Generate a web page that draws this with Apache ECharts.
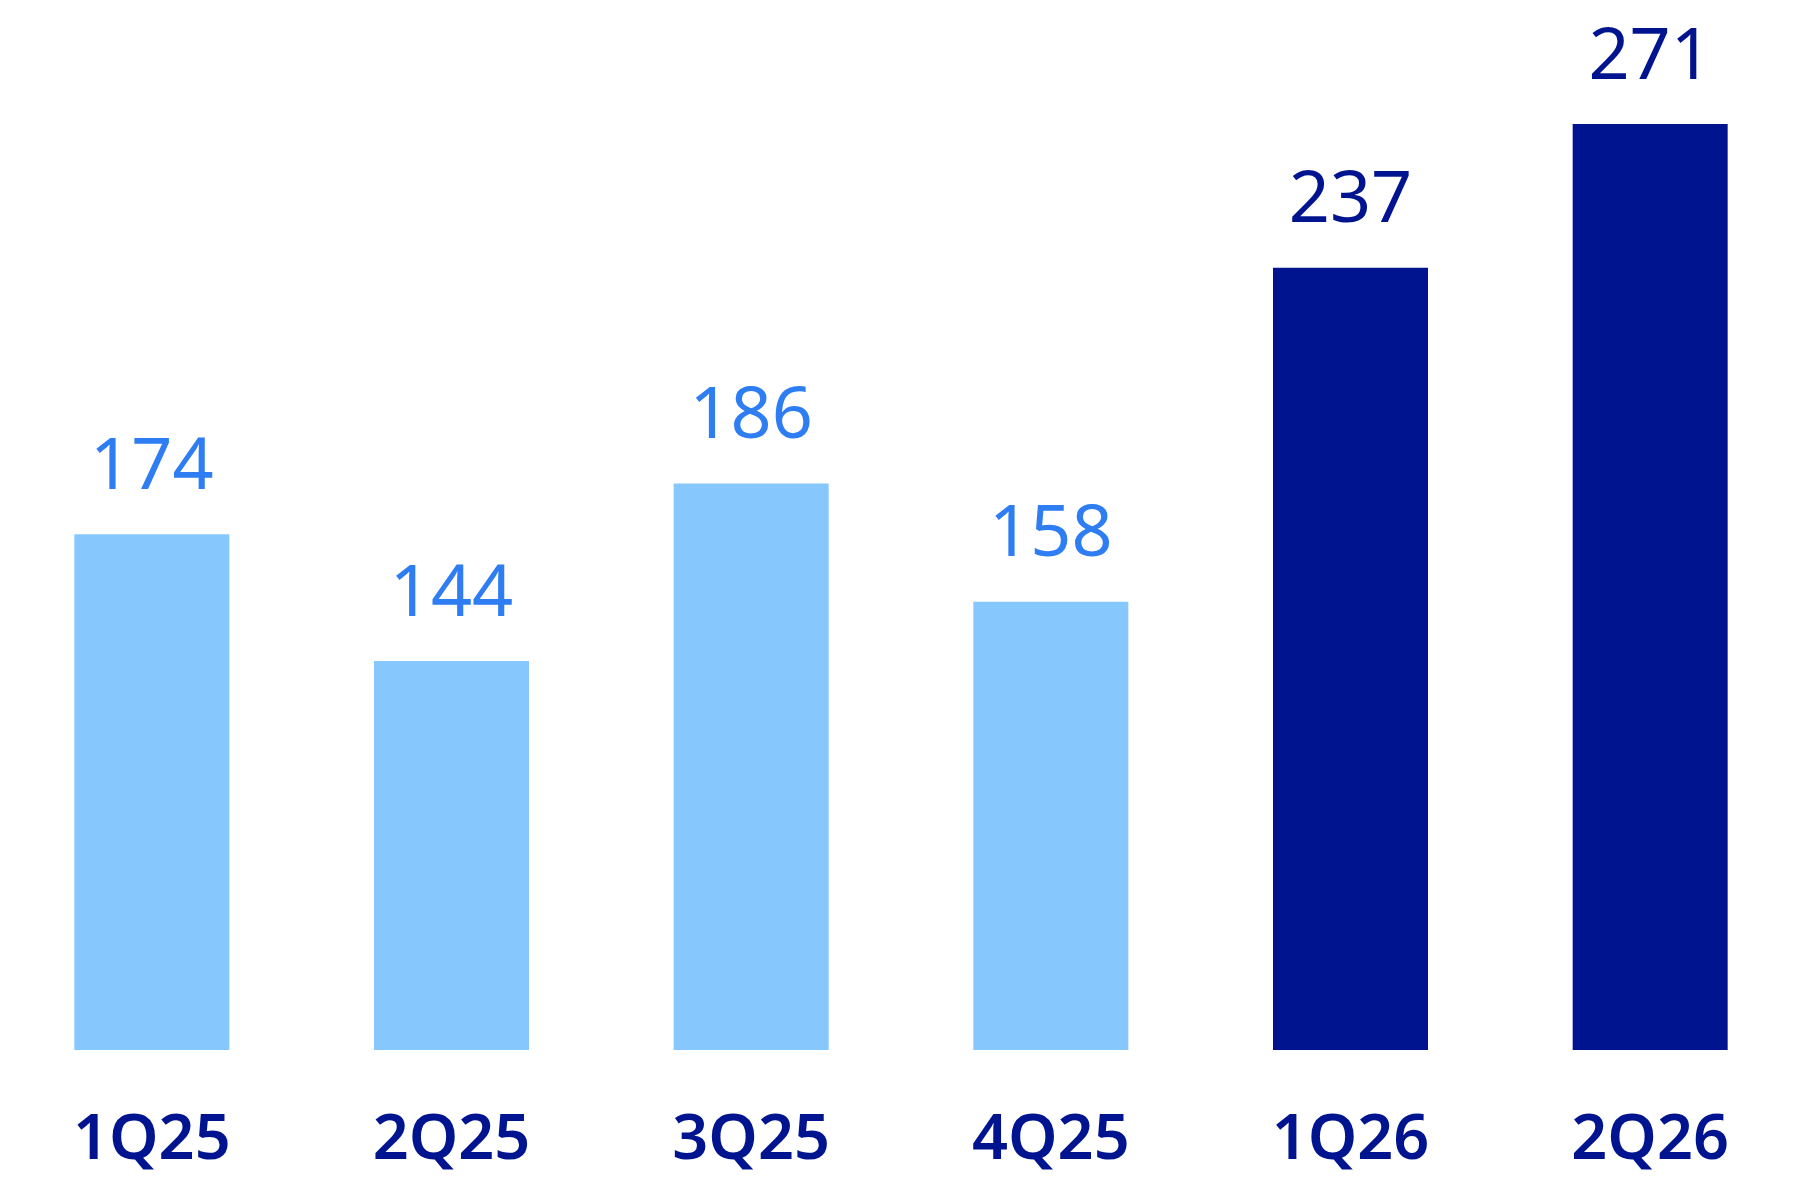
<!DOCTYPE html>
<html>
<head>
<meta charset="utf-8">
<script src="https://cdn.jsdelivr.net/npm/echarts@6/dist/echarts.min.js"></script>
<style>
  html, body { margin: 0; padding: 0; background: #ffffff; }
  #chart { width: 1800px; height: 1200px; }
</style>
</head>
<body>
<div id="chart"></div>
<script>
// 数据
var quarters = ['1Q25', '2Q25', '3Q25', '4Q25', '1Q26', '2Q26'];
var values = [174, 144, 186, 158, 237, 271];
var isCurrent = [false, false, false, false, true, true];   // 2026 bars in navy

var lightBar = '#86C7FD';
var lightText = '#2E7DF2';
var navy = '#00148F';

var barData = [];
for (var i = 0; i <= (values.length - 1); i++) {
    barData.push({
        value: values[i],
        itemStyle: { color: isCurrent[i] ? navy : lightBar },
        label: { color: isCurrent[i] ? navy : lightText }
    });
};

var chart = echarts.init(document.getElementById('chart'));
var option = {
    animation: false,
    backgroundColor: '#ffffff',
    grid: { left: 2, right: -3, top: 86, bottom: 150, containLabel: false },
    xAxis: {
        type: 'category',
        data: quarters,
        axisLine: { show: false },
        axisTick: { show: false },
        axisLabel: {
            margin: 60,
            fontFamily: 'Noto Sans',
            fontWeight: 600,
            fontSize: 63,
            color: navy
        }
    },
    yAxis: {
        type: 'value',
        min: 52,
        max: 280,
        show: false,
        splitLine: { show: false }
    },
    series: [{
        type: 'bar',
        barWidth: 155,
        data: barData,
        label: {
            show: true,
            position: 'top',
            distance: 30,
            fontFamily: 'Noto Sans',
            fontSize: 72,
            fontWeight: 'normal'
        }
    }]
};
chart.setOption(option);
</script>
</body>
</html>
